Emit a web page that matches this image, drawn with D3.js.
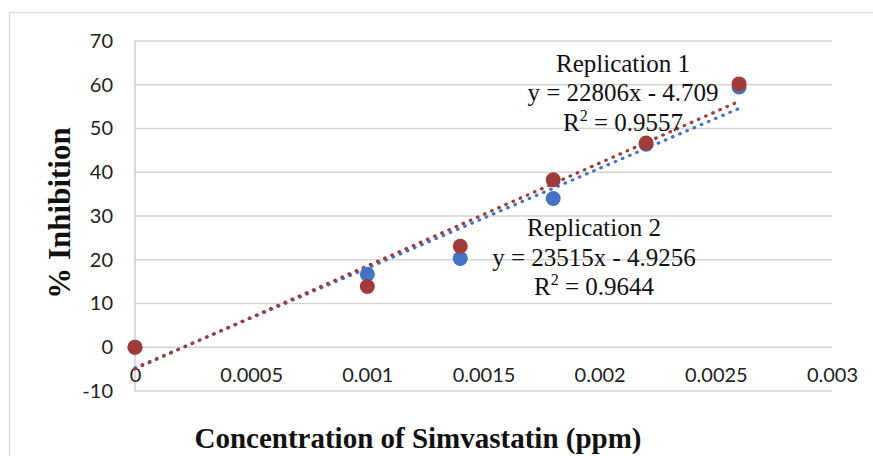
<!DOCTYPE html>
<html>
<head>
<meta charset="utf-8">
<script src="https://cdn.jsdelivr.net/npm/d3@7/dist/d3.min.js"></script>
<style>
  html, body { margin: 0; padding: 0; background: #fff; }
  svg { display: block; }
</style>
</head>
<body>
<svg id="chart" width="873" height="456"></svg>
<script>
// ---- data ----
const concentrations = [0, 0.001, 0.0014, 0.0018, 0.0022, 0.0026];
const replication1 = [0, 16.7, 20.3, 34.0, 46.4, 59.5];
const replication2 = [0, 13.9, 23.1, 38.3, 46.7, 60.2];
const seriesNames = ["Replication 1", "Replication 2"];
const trendSlopes = [22806, 23515];
const trendIntercepts = [-4.709, -4.9256];
const trendEquations = ["y = 22806x - 4.709", "y = 23515x - 4.9256"];
const trendR2 = ["0.9557", "0.9644"];
const xTicks = [0, 0.0005, 0.001, 0.0015, 0.002, 0.0025, 0.003];
const yTicks = [-10, 0, 10, 20, 30, 40, 50, 60, 70];
const xTickLabels = ["0", "0.0005", "0.001", "0.0015", "0.002", "0.0025", "0.003"];
const yTickLabels = ["-10", "0", "10", "20", "30", "40", "50", "60", "70"];

const colors = ["#4472C4", "#A13B3A"];

const svg = d3.select("#chart");
const W = 873, H = 456;

// chart border
svg.append("rect").attr("x", 9.5).attr("y", 12.5).attr("width", W + 10).attr("height", H + 10)
  .attr("fill", "none").attr("stroke", "#d9d9d9").attr("stroke-width", 1.3);

const plot = { left: 135, right: 832, top: 41, bottom: 391 };
const x = d3.scaleLinear().domain([0, 0.003]).range([plot.left, plot.right]);
const y = d3.scaleLinear().domain([-10, 70]).range([plot.bottom, plot.top]);

// gridlines
svg.append("g").selectAll("line").data(yTicks).join("line")
  .attr("x1", plot.left).attr("x2", plot.right)
  .attr("y1", d => y(d)).attr("y2", d => y(d))
  .attr("stroke", "#d4d4d4").attr("stroke-width", 1.3);

// vertical axis line
svg.append("line").attr("x1", x(0)).attr("x2", x(0)).attr("y1", plot.top).attr("y2", plot.bottom)
  .attr("stroke", "#c8c8c8").attr("stroke-width", 1.3);

// y axis labels
const yAxis = d3.axisLeft(y).tickValues(yTicks).tickSize(0).tickPadding(22)
  .tickFormat((d, i) => yTickLabels[i]);
const gy = svg.append("g").attr("transform", `translate(${plot.left},0)`).call(yAxis);
gy.select(".domain").remove();
gy.selectAll("text").attr("font-family", "Lato, 'Open Sans', sans-serif").attr("font-size", 20).attr("fill", "#222");

// x axis labels (placed under the 0 line)
const xAxis = d3.axisBottom(x).tickValues(xTicks).tickSize(0).tickPadding(21)
  .tickFormat((d, i) => xTickLabels[i]);
const gx = svg.append("g").attr("transform", `translate(0,${y(0)})`).call(xAxis);
gx.select(".domain").remove();
gx.selectAll("text").attr("font-family", "Lato, 'Open Sans', sans-serif").attr("font-size", 20).attr("fill", "#222");

// trendlines
const allSeries = [replication1, replication2];
const xMaxData = d3.max(concentrations);
allSeries.forEach((s, i) => {
  const f = v => trendSlopes[i] * v + trendIntercepts[i];
  svg.append("line")
    .attr("x1", x(0)).attr("y1", y(f(0)))
    .attr("x2", x(xMaxData)).attr("y2", y(f(xMaxData)))
    .attr("stroke", colors[i]).attr("stroke-width", 3.2)
    .attr("stroke-linecap", "round").attr("stroke-dasharray", "0.6 7.2");
});

// markers
allSeries.forEach((s, i) => {
  svg.append("g").selectAll("circle").data(s).join("circle")
    .attr("cx", (d, j) => x(concentrations[j])).attr("cy", d => y(d))
    .attr("r", 7.5).attr("fill", colors[i]);
});

// trendline labels
const labelPos = [{ cx: 623, y0: 71.5 }, { cx: 594, y0: 236 }];
labelPos.forEach((p, i) => {
  const t = svg.append("text").attr("font-family", "'Liberation Serif', 'Times New Roman', serif")
    .attr("font-size", 25).attr("fill", "#111").attr("text-anchor", "middle");
  t.append("tspan").attr("x", p.cx).attr("y", p.y0).text(seriesNames[i]);
  t.append("tspan").attr("x", p.cx).attr("y", p.y0 + 29.7).text(trendEquations[i]);
  const l3 = t.append("tspan").attr("x", p.cx).attr("y", p.y0 + 59.4);
  l3.append("tspan").text("R");
  l3.append("tspan").attr("font-size", 16).attr("dy", -10).text("2");
  l3.append("tspan").attr("dy", 10).text(" = " + trendR2[i]);
});

// axis titles
svg.append("text").attr("x", 418).attr("y", 448)
  .attr("text-anchor", "middle").attr("font-family", "'Liberation Serif', 'Times New Roman', serif")
  .attr("font-weight", "bold").attr("font-size", 29).attr("fill", "#111")
  .text("Concentration of Simvastatin (ppm)");

svg.append("text").attr("transform", "translate(70,213) rotate(-90)")
  .attr("text-anchor", "middle").attr("font-family", "'Liberation Serif', 'Times New Roman', serif")
  .attr("font-weight", "bold").attr("font-size", 31).attr("fill", "#111")
  .text("% Inhibition");
</script>
</body>
</html>
